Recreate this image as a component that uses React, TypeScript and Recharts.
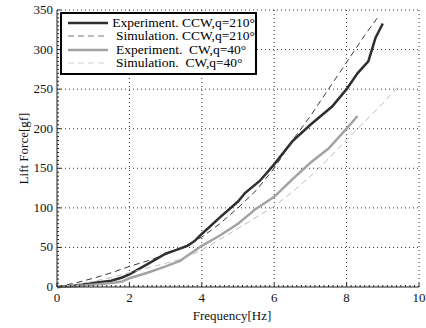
import { CartesianGrid, Label, Legend, Line, LineChart, XAxis, YAxis } from 'recharts'

// frequency [Hz] and lift force [gf]
const expCcwFreq = [0, 0.5, 1, 1.5, 1.8, 2, 2.5, 3, 3.3, 3.6, 3.8, 4, 4.5, 5, 5.2, 5.6, 6, 6.5, 7, 7.6, 8, 8.3, 8.6, 8.8, 9]
const expCcwLift = [0, 2, 5, 8, 12, 16, 29, 42, 47, 52, 58, 67, 88, 108, 119, 134, 155, 184, 205, 228, 250, 270, 285, 315, 333]

const simCcwFreq = [0, 0.5, 1, 1.5, 2, 2.5, 3, 3.5, 4, 4.5, 5, 5.5, 6, 6.5, 7, 7.5, 8, 8.5, 8.85]
const simCcwLift = [0, 5, 11, 18, 26, 33, 41, 51, 63, 80, 100, 122, 150, 185, 216, 250, 284, 318, 340]

const expCwFreq = [0, 0.5, 1, 1.5, 1.8, 2, 2.5, 3, 3.4, 4, 4.5, 5, 5.5, 6, 6.5, 7, 7.5, 8, 8.3]
const expCwLift = [0, 1, 3, 5, 7, 11, 18, 26, 33, 52, 65, 80, 99, 114, 136, 157, 175, 200, 216]

const simCwFreq = [0, 0.5, 1, 1.5, 2, 2.5, 3, 3.5, 4, 4.5, 5, 5.5, 6, 6.5, 7, 7.5, 8, 8.5, 9, 9.4]
const simCwLift = [0, 3, 7, 12, 18, 24, 30, 36, 47, 60, 74, 88, 102, 120, 140, 162, 186, 209, 232, 252]

const xMajorTicks = [0, 2, 4, 6, 8, 10]
const yMajorTicks = [0, 50, 100, 150, 200, 250, 300, 350]

const xMinorTicks = Array.from({ length: 81 }, (_, i) => i * 0.125)
const yMinorTicks = Array.from({ length: 71 }, (_, i) => i * 5)

const series = [
  { name: 'Experiment. CCW,q=210°', freq: expCcwFreq, lift: expCcwLift, color: '#2e2e2e', width: 2.5, dash: undefined, legendColor: '#2e2e2e' },
  { name: 'Simulation. CCW,q=210°', freq: simCcwFreq, lift: simCcwLift, color: '#3a3a3a', width: 1, dash: '6 4', legendColor: '#7a7a7a' },
  { name: 'Experiment.  CW,q=40°', freq: expCwFreq, lift: expCwLift, color: '#a3a3a3', width: 2.5, dash: undefined, legendColor: '#a3a3a3' },
  { name: 'Simulation.  CW,q=40°', freq: simCwFreq, lift: simCwLift, color: '#bdbdbd', width: 1, dash: '6 4', legendColor: '#cfcfcf' },
]

const toPoints = (freq: number[], lift: number[]) => freq.map((f, i) => ({ f, lift: lift[i] }))

const FONT = 'Liberation Serif'

function XTick({ x, y, payload }: any) {
  const v = payload.value
  const major = xMajorTicks.some((t) => Math.abs(t - v) < 1e-6)
  return (
    <g>
      <line x1={x} x2={x} y1={y} y2={y - (major ? 4 : 2)} stroke="#222" />
      {major && (
        <text x={x} y={y + 15} textAnchor="middle" style={{ fontFamily: FONT, fontSize: 13 }} fill="#111">
          {v}
        </text>
      )}
    </g>
  )
}

function YTick({ x, y, payload }: any) {
  const v = payload.value
  const major = yMajorTicks.includes(v)
  return (
    <g>
      <line x1={x} x2={x + (major ? 4 : 2)} y1={y} y2={y} stroke="#222" />
      {major && (
        <text x={x - 4} y={y + 4} textAnchor="end" style={{ fontFamily: FONT, fontSize: 13 }} fill="#111">
          {v}
        </text>
      )}
    </g>
  )
}

function LegendBox() {
  return (
    <div
      style={{
        width: 193,
        height: 57,
        border: '2px solid #000',
        background: '#fff',
        padding: '2px 0 0 0',
        boxSizing: 'content-box',
        fontFamily: FONT,
        fontSize: 13.5,
      }}
    >
      {series.map((s) => (
        <div key={s.name} style={{ display: 'flex', alignItems: 'center', height: 13.5, whiteSpace: 'pre' }}>
          <svg width={54} height={10}>
            <line
              x1={6}
              x2={46}
              y1={5}
              y2={5}
              stroke={s.legendColor}
              strokeWidth={s.width}
              strokeDasharray={s.dash}
            />
          </svg>
          <span style={{ color: '#000' }}>{s.name}</span>
        </div>
      ))}
    </div>
  )
}

export default function App() {
  return (
    <div style={{ position: 'absolute', left: 0, top: 0, width: 426, height: 328, background: '#fff', fontFamily: FONT }}>
      <LineChart width={426} height={328} margin={{ top: 10, right: 7, bottom: 0, left: 0 }} style={{ fontFamily: FONT }}>
        <CartesianGrid
          stroke="#333"
          strokeDasharray="1 3"
          verticalValues={[2, 4, 6, 8, 10]}
          horizontalValues={[50, 100, 150, 200, 250, 300, 350]}
        />
        <XAxis
          type="number"
          dataKey="f"
          domain={[0, 10]}
          ticks={xMinorTicks}
          interval={0}
          height={41}
          tickLine={false}
          tickSize={0}
          tickMargin={0}
          axisLine={{ stroke: '#222' }}
          tick={<XTick />}
          allowDuplicatedCategory={false}
        >
          <Label value="Frequency[Hz]" position="center" dx={-6} dy={8} style={{ fontFamily: FONT, fontSize: 13 }} fill="#111" />
        </XAxis>
        <YAxis
          type="number"
          domain={[0, 350]}
          ticks={yMinorTicks}
          interval={0}
          width={57}
          tickLine={false}
          tickSize={0}
          tickMargin={0}
          axisLine={{ stroke: '#222' }}
          tick={<YTick />}
        >
          <Label value="Lift Force[gf]" position="center" angle={-90} dx={-5} style={{ fontFamily: FONT, fontSize: 13 }} fill="#111" />
        </YAxis>
        <Legend
          layout="vertical"
          align="center"
          verticalAlign="middle"
          wrapperStyle={{ left: 60, top: 12, width: 197 }}
          content={<LegendBox />}
        />
        {series.map((s) => (
          <Line
            key={s.name}
            data={toPoints(s.freq, s.lift)}
            dataKey="lift"
            name={s.name}
            type="linear"
            stroke={s.color}
            strokeWidth={s.width}
            strokeDasharray={s.dash}
            dot={false}
            activeDot={false}
            isAnimationActive={false}
          />
        ))}
      </LineChart>
    </div>
  )
}
